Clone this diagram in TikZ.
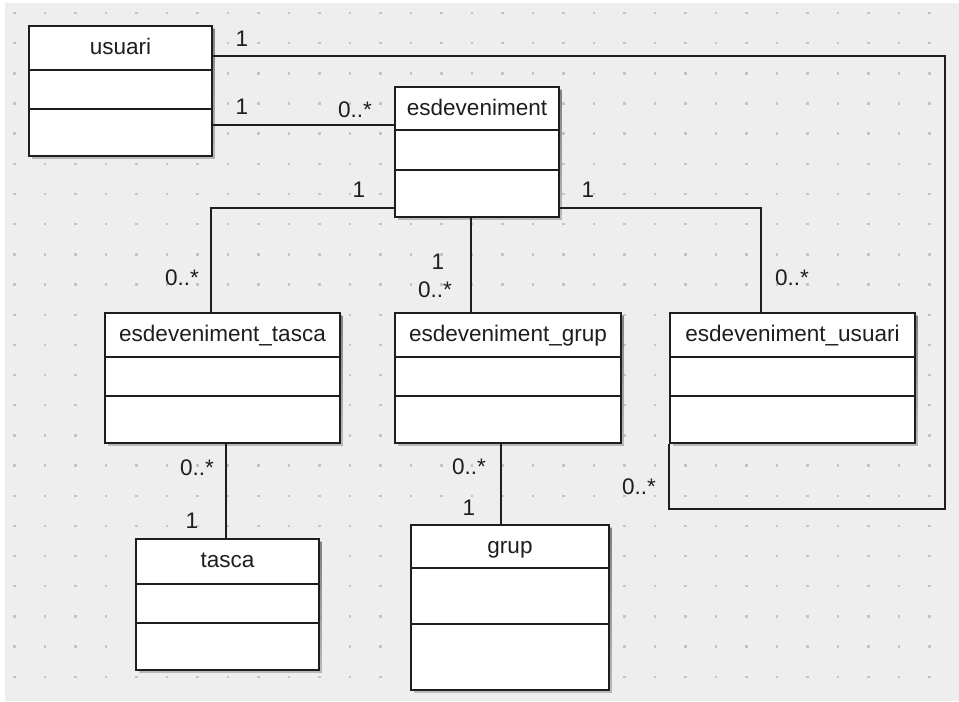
\documentclass[tikz,border=0pt]{standalone}
\usepackage{fontspec}
\setmainfont{Liberation Sans}
\usetikzlibrary{calc,fit}

\definecolor{canvas}{HTML}{EEEEEE}
\definecolor{griddot}{HTML}{C4C4C4}
\definecolor{ink}{HTML}{1E1E1E}
\definecolor{shade}{HTML}{A8A8A8}

\tikzset{
  classbox/.style={draw=ink, line width=1.3pt, fill=white, inner sep=0pt},
  divider/.style={draw=ink, line width=1.1pt},
  assoc/.style={draw=ink, line width=1.1pt},
  classtitle/.style={anchor=base, inner sep=0pt, text=ink,
    font=\fontsize{16.9}{20}\selectfont},
  mult/.style={anchor=center, inner sep=0pt, text=ink,
    font=\fontsize{16.9}{20}\selectfont},
}

% UML class: #1 name, (#2,#3)-(#4,#5) corners, #6 #7 divider rows, #8 title
\newcommand\umlclass[8]{%
  \fill[shade, opacity=0.45] (#2+2.5,#3+2.5) rectangle (#4+2.5,#5+2.5);
  \node[classbox, fit={(#2,#3) (#4,#5)}] (#1) {};
  \draw[divider] (#2,#6) -- (#4,#6);
  \draw[divider] (#2,#7) -- (#4,#7);
  \node[classtitle] (#1-title) at ($(#1.north)+(0,29)$) {#8};
}

\begin{document}
\begin{tikzpicture}[x=0.75pt, y=-0.75pt]
  % canvas and dot grid
  \useasboundingbox (0,0) rectangle (959,701);
  \fill[white] (0,0) rectangle (959,701);
  \fill[canvas] (5,3) rectangle (959,701);
  \foreach \i in {0,...,30}{
    \foreach \j in {0,...,22}{
      \fill[griddot] ({14.5+30.5*\i-1.2},{13+30.17*\j-1.2}) rectangle +(2.4,2.4);
    }
  }

  % classes
  \umlclass{usuari}{29}{26}{212}{156}{70}{109}{usuari}
  \umlclass{esdev}{395}{87}{559}{217}{130}{170}{esdeveniment}
  \umlclass{estasca}{105}{313}{340}{443}{357}{396}{esdeveniment\_tasca}
  \umlclass{esgrup}{395}{313}{621}{443}{357}{396}{esdeveniment\_grup}
  \umlclass{esusuari}{670}{313}{915}{443}{357}{396}{esdeveniment\_usuari}
  \umlclass{tasca}{136}{539}{319}{670}{584}{623}{tasca}
  \umlclass{grup}{411}{525}{609}{690}{568}{624}{grup}

  % routing corners of the long usuari association
  \coordinate (routeNE) at (945,57);
  \coordinate (routeSE) at (945,509);

  % associations
  \draw[assoc] ($(usuari.north east)+(0,31)$) coordinate (uTop)
    -- (uTop -| routeNE) -- (routeSE) -| (esusuari.south west);
  \draw[assoc] ($(usuari.north east)+(0,100)$) coordinate (uMid)
    -- (uMid -| esdev.west);
  \draw[assoc] ($(esdev.south west)+(0,-10)$)
    -| ($(estasca.north west)+(107,0)$);
  \draw[assoc] ($(esdev.south west)+(77,0)$) coordinate (eMid)
    -- (eMid |- esgrup.north);
  \draw[assoc] ($(esdev.south east)+(0,-10)$)
    -| ($(esusuari.north west)+(92,0)$);
  \draw[assoc] ($(estasca.south west)+(122,0)$) coordinate (tLine)
    -- (tLine |- tasca.north);
  \draw[assoc] ($(esgrup.south west)+(107,0)$) coordinate (gLine)
    -- (gLine |- grup.north);

  % multiplicities
  \node[mult] (m1) at (242,38.5) {1};
  \node[mult] (m2) at (242,107) {1};
  \node[mult] (m3) at (355,110) {0..*};
  \node[mult] (m4) at (359,190) {1};
  \node[mult] (m5) at (588,190) {1};
  \node[mult] (m6) at (438,262) {1};
  \node[mult] (m7) at (435,290) {0..*};
  \node[mult] (m8) at (182,278) {0..*};
  \node[mult] (m9) at (792,278) {0..*};
  \node[mult] (m10) at (197,468) {0..*};
  \node[mult] (m11) at (192,521) {1};
  \node[mult] (m12) at (469,467) {0..*};
  \node[mult] (m13) at (469,508) {1};
  \node[mult] (m14) at (639,487) {0..*};
\end{tikzpicture}
\end{document}
